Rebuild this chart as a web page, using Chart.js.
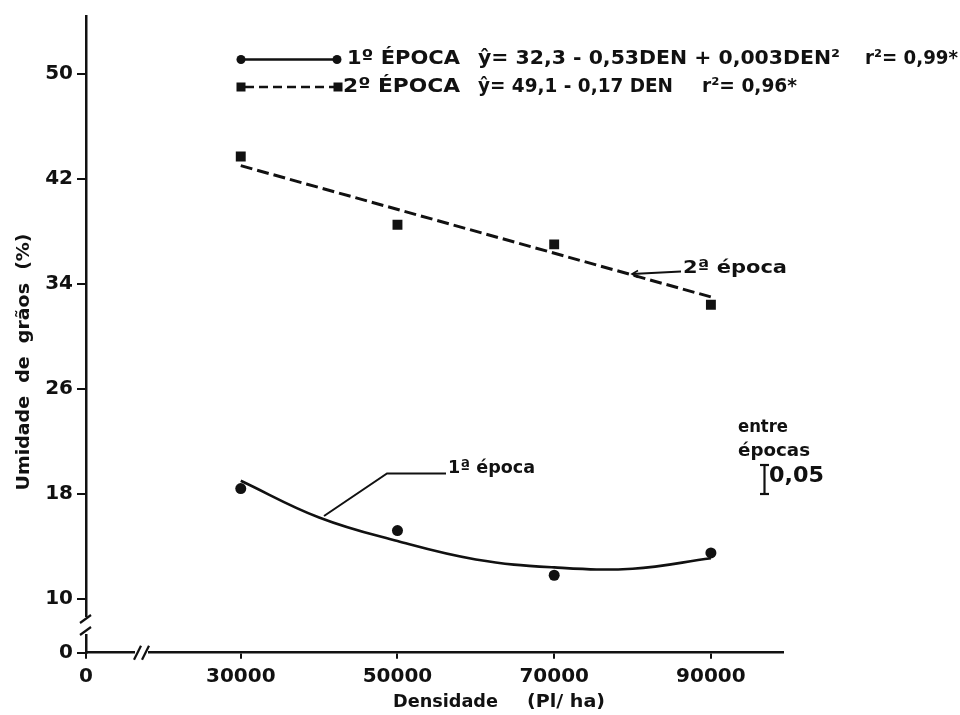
<!DOCTYPE html>
<html>
<head>
<meta charset="utf-8">
<script src="https://cdn.jsdelivr.net/npm/chart.js@4"></script>
<style>
  html, body { margin: 0; padding: 0; background: #fff; }
  #wrap { width: 960px; height: 715px; }
</style>
</head>
<body>
<div id="wrap"><canvas id="c" width="960" height="715"></canvas></div>
<script>
// ---- data ----
const densidades = [30000, 50000, 70000, 90000];
const umidade1 = [18.4, 15.2, 11.8, 13.5];   // 1ª época (observed, circles)
const umidade2 = [43.7, 38.5, 37.0, 32.4];   // 2ª época (observed, squares)
const ajuste1X = [30000, 40000, 50000, 60000, 70000, 80000, 90000];
const ajuste1Y = [19.0, 16.2, 14.4, 13.0, 12.4, 12.3, 13.1]; // fitted curve 1ª época
const ajuste2X = [30000, 90000];
const ajuste2Y = [43.0, 33.0];                // fitted line 2ª época
const xTickValues = [30000, 50000, 70000, 90000];
const yTickValues = [10, 18, 26, 34, 42, 50];
// broken-axis origins: value position where "0" is shown
const X_ZERO = 10250;
const Y_ZERO = 5.9;

const INK = '#111';
const FONT = '"DejaVu Sans", sans-serif';

function pts(xs, ys) { return xs.map((x, i) => ({ x: x, y: ys[i] })); }

function T(ctx, s, x, y, size, w, align, weight) {
  ctx.save();
  ctx.font = (weight || 'bold') + ' ' + size + 'px ' + FONT;
  ctx.textBaseline = 'middle';
  ctx.fillStyle = INK;
  const m = ctx.measureText(s).width;
  const sx = w ? w / m : 1;
  ctx.translate(x, y);
  ctx.scale(sx, 1);
  ctx.textAlign = align || 'left';
  ctx.fillText(s, 0, 0);
  ctx.restore();
}
function L(ctx, coords, width) {
  ctx.beginPath();
  ctx.moveTo(coords[0], coords[1]);
  for (let i = 2; i < coords.length; i += 2) ctx.lineTo(coords[i], coords[i + 1]);
  ctx.lineWidth = width || 2;
  ctx.strokeStyle = INK;
  ctx.stroke();
}

const decor = {
  id: 'decor',
  afterDraw(chart) {
    const ctx = chart.ctx;
    const ca = chart.chartArea;
    ctx.save();
    ctx.lineCap = 'butt';

    // ---- x-axis break "//" ----
    ctx.fillStyle = '#fff';
    ctx.fillRect(135, ca.bottom - 4, 13, 8);
    L(ctx, [134, ca.bottom + 7, 141, ca.bottom - 7], 2.2);
    L(ctx, [142, ca.bottom + 7, 149, ca.bottom - 7], 2.2);

    // ---- y-axis break ----
    ctx.fillStyle = '#fff';
    ctx.fillRect(ca.left - 3, 617, 6, 17);
    L(ctx, [ca.left - 6, 623, ca.left + 5, 615], 2.2);
    L(ctx, [ca.left - 6, 635, ca.left + 5, 627], 2.2);

    // ---- legend ----
    L(ctx, [241, 59.5, 337, 59.5], 2.4);
    ctx.fillStyle = INK;
    [241, 337].forEach(x => { ctx.beginPath(); ctx.arc(x, 59.5, 4.5, 0, Math.PI * 2); ctx.fill(); });
    ctx.save();
    ctx.setLineDash([9, 5]);
    L(ctx, [245, 87, 334, 87], 2.4);
    ctx.restore();
    ctx.fillStyle = INK;
    [241, 338].forEach(x => ctx.fillRect(x - 4.5, 82.5, 9, 9));

    T(ctx, '1º ÉPOCA', 347, 59, 20, 113);
    T(ctx, 'ŷ= 32,3 - 0,53DEN + 0,003DEN²', 478, 59, 20, 362);
    T(ctx, 'r²= 0,99*', 865, 59, 20, 93);
    T(ctx, '2º ÉPOCA', 343, 86.5, 20, 117);
    T(ctx, 'ŷ= 49,1 - 0,17 DEN', 478, 86.5, 20, 195);
    T(ctx, 'r²= 0,96*', 702, 86.5, 20, 95);

    // ---- curve labels ----
    L(ctx, [632, 274, 681, 271.5], 2);
    L(ctx, [638, 270.5, 632, 274, 638, 277.5], 1.6);
    T(ctx, '2ª época', 683, 268, 18, 104);

    L(ctx, [324, 516, 387, 473.5, 446, 473.5], 2);
    T(ctx, '1ª época', 448, 468, 18, 87);

    // ---- LSD bar ----
    T(ctx, 'entre', 738, 428, 17, 50);
    T(ctx, 'épocas', 738, 452, 17, 72);
    L(ctx, [764.5, 465, 764.5, 494], 2.2);
    L(ctx, [760, 465, 769, 465], 2.2);
    L(ctx, [760, 494, 769, 494], 2.2);
    T(ctx, '0,05', 769, 477, 21, 55);

    // ---- axis titles ----
    ctx.save();
    ctx.translate(25, 362);
    ctx.rotate(-Math.PI / 2);
    T(ctx, 'Umidade  de  grãos  (%)', 0, 0, 17, 257, 'center');
    ctx.restore();
    T(ctx, 'Densidade', 393, 703, 17, 105);
    T(ctx, '(Pl/ ha)', 527, 703, 17, 78);

    ctx.restore();
  }
};

const chart = new Chart(document.getElementById('c'), {
  type: 'scatter',
  data: {
    datasets: [
      {
        label: 'ajuste 1ª época',
        data: pts(ajuste1X, ajuste1Y),
        showLine: true,
        borderColor: INK,
        borderWidth: 2.6,
        pointRadius: 0,
        tension: 0.4,
        fill: false
      },
      {
        label: 'ajuste 2ª época',
        data: pts(ajuste2X, ajuste2Y),
        showLine: true,
        borderColor: INK,
        borderWidth: 3,
        borderDash: [12, 5],
        pointRadius: 0,
        fill: false
      },
      {
        label: '1ª época',
        data: pts(densidades, umidade1),
        showLine: false,
        pointStyle: 'circle',
        pointRadius: 5.5,
        backgroundColor: INK,
        borderColor: INK,
        borderWidth: 0
      },
      {
        label: '2ª época',
        data: pts(densidades, umidade2),
        showLine: false,
        pointStyle: 'rect',
        pointRadius: 7,
        backgroundColor: INK,
        borderColor: INK,
        borderWidth: 0
      }
    ]
  },
  options: {
    responsive: false,
    animation: false,
    devicePixelRatio: 1,
    events: [],
    layout: { padding: { left: 0, right: 177, top: 15, bottom: 0 } },
    plugins: { legend: { display: false }, tooltip: { enabled: false } },
    scales: {
      x: {
        type: 'linear',
        min: X_ZERO,
        max: 99200,
        afterBuildTicks: s => { s.ticks = [X_ZERO].concat(xTickValues).map(v => ({ value: v })); },
        afterFit: s => { s.height = 62.3; },
        ticks: {
          callback: v => (v === X_ZERO ? '0' : String(v)),
          font: { family: FONT, size: 20, weight: 'bold' },
          color: INK,
          padding: 6,
          maxRotation: 0,
          autoSkip: false
        },
        grid: { drawOnChartArea: false, drawTicks: true, tickLength: 6, color: INK, lineWidth: 2 },
        border: { display: true, color: INK, width: 2.5 }
      },
      y: {
        type: 'linear',
        min: Y_ZERO,
        max: 54.4,
        afterBuildTicks: s => { s.ticks = [Y_ZERO].concat(yTickValues).map(v => ({ value: v })); },
        afterFit: s => { s.width = 86; },
        ticks: {
          callback: v => (v === Y_ZERO ? '0' : String(v)),
          font: { family: FONT, size: 20, weight: 'bold' },
          color: INK,
          padding: 4,
          autoSkip: false
        },
        grid: { drawOnChartArea: false, drawTicks: true, tickLength: 9, color: INK, lineWidth: 2 },
        border: { display: true, color: INK, width: 2.5 }
      }
    }
  },
  plugins: [decor]
});
</script>
</body>
</html>
